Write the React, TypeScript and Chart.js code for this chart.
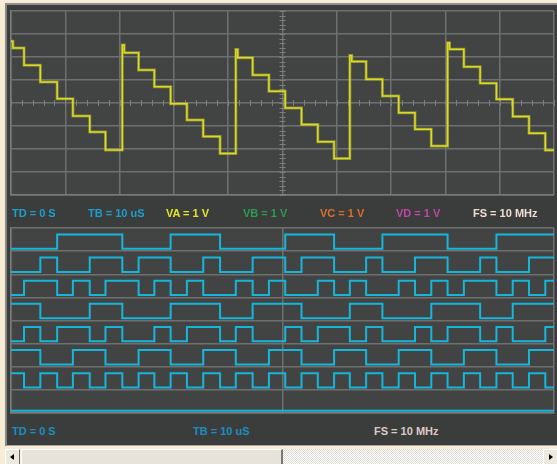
import React, { useEffect, useRef } from "react";
import { Chart, registerables } from "chart.js";

Chart.register(...registerables);

// ---- time base (µs): clock edges ----
const timeStart = 0;
const timeEnd = 100;
const edgeTimes = [
  2.4, 5.4, 8.5, 11.4, 14.5, 17.4, 20.5, 23.5, 26.4, 29.4, 32.4, 35.4, 38.5, 41.4, 44.5, 47.5, 50.5,
  53.5, 56.5, 59.5, 62.4, 65.4, 68.4, 71.4, 74.4, 77.4, 80.4, 83.4, 86.4, 89.4, 92.4, 95.4, 98.4,
];

// ---- channel A (volts), one level per clock interval ----
const channelA = [
  2.39, 1.64, 0.91, 0.19, -0.56, -1.26, -2.04,
  2.19, 1.43, 0.71, -0.03, -0.74, -1.46, -2.2,
  1.97, 1.22, 0.51, -0.22, -0.94, -1.68, -2.41,
  1.8, 1.03, 0.3, -0.42, -1.14, -1.87,
  2.34, 1.58, 0.86, 0.16, -0.59, -1.32, -2.05,
];
const overshootIntervals = [0, 7, 14, 21, 27];
const overshootValues = [2.69, 2.52, 2.33, 2.07, 2.62];

// ---- logic analyser channels, one bit per clock interval ----
const logicD0 = "0001111000111000011100011110001111";
const logicD1 = "0010011011001001101100100110010011";
const logicD2 = "0110101101010010100101001010110101";
const logicD3 = "1100011000111001110001100011100111";
const logicD4 = "0101101001011010010110100101101001";
const logicD5 = "1100110011001100110011001100110011";
const logicD6 = "1010101010101010101010101010101010";
const logicD7 = "0000000000000000000000000000000000";
const logicRows = [logicD0, logicD1, logicD2, logicD3, logicD4, logicD5, logicD6, logicD7];

// ---- texts ----
const scopeLabels = ["TD = 0 S", "TB = 10 uS", "VA = 1 V", "VB = 1 V", "VC = 1 V", "VD = 1 V", "FS = 10 MHz"];
const logicLabels = ["TD = 0 S", "TB = 10 uS", "FS = 10 MHz"];

const scopeMin = -4;
const scopeMax = 4;

const intervalStarts = [timeStart, ...edgeTimes];

function scopePoints() {
  const pts: { x: number; y: number }[] = [];
  intervalStarts.forEach((s, j) => {
    const k = overshootIntervals.indexOf(j);
    if (k >= 0) {
      pts.push({ x: s, y: overshootValues[k] });
      pts.push({ x: s + 0.35, y: channelA[j] });
    } else {
      pts.push({ x: s, y: channelA[j] });
    }
  });
  pts.push({ x: timeEnd, y: channelA[channelA.length - 1] });
  return pts;
}

function logicPoints(bits: string, row: number) {
  const base = logicRows.length - 1 - row;
  const lv = (b: string) => base + (b === "1" ? 0.72 : 0.1);
  const pts = intervalStarts.map((s, j) => ({ x: s, y: lv(bits[j]) }));
  pts.push({ x: timeEnd, y: lv(bits[bits.length - 1]) });
  return pts;
}

const GRID = "#6e7070";
const BORDER = "#7a7c7c";

const areaBg = {
  id: "areaBg",
  beforeDraw(chart: any) {
    const { ctx, chartArea } = chart;
    ctx.save();
    ctx.fillStyle = "#424444";
    ctx.fillRect(chartArea.left, chartArea.top, chartArea.right - chartArea.left, chartArea.bottom - chartArea.top);
    ctx.restore();
  },
};

const centerTicks = {
  id: "centerTicks",
  beforeDatasetsDraw(chart: any) {
    const { ctx, scales } = chart;
    const xs = scales.x;
    const ys = scales.y;
    const cx = xs.getPixelForValue(50);
    const cy = ys.getPixelForValue(0);
    ctx.save();
    ctx.strokeStyle = "#7c7e7e";
    ctx.lineWidth = 1;
    ctx.beginPath();
    for (let t = timeStart; t <= timeEnd; t += 2) {
      const px = Math.round(xs.getPixelForValue(t)) + 0.5;
      ctx.moveTo(px, cy - 3);
      ctx.lineTo(px, cy + 3);
    }
    for (let v = scopeMin; v <= scopeMax + 1e-9; v += 0.2) {
      const py = Math.round(ys.getPixelForValue(v)) + 0.5;
      ctx.moveTo(cx - 3, py);
      ctx.lineTo(cx + 3, py);
    }
    ctx.stroke();
    ctx.restore();
  },
};

function axisX(step: number) {
  return {
    type: "linear" as const,
    min: timeStart,
    max: timeEnd,
    ticks: { display: false, stepSize: step },
    grid: { color: GRID, lineWidth: 1.5, drawTicks: false },
    border: { display: true, color: BORDER, width: 1.5 },
  };
}

function ScopeChart() {
  const ref = useRef<HTMLCanvasElement>(null);
  useEffect(() => {
    const pts = scopePoints();
    const chart = new Chart(ref.current!, {
      type: "line",
      data: {
        datasets: [
          { data: pts, borderColor: "rgba(190,190,40,0.55)", borderWidth: 3, stepped: true, pointRadius: 0 },
          { data: pts, borderColor: "#ffff22", borderWidth: 1.5, stepped: true, pointRadius: 0 },
        ],
      },
      options: {
        animation: false,
        responsive: false,
        devicePixelRatio: 1,
        layout: { padding: { left: 11, top: 11, right: 3, bottom: 5 } },
        plugins: { legend: { display: false }, tooltip: { enabled: false } },
        scales: {
          x: axisX(10),
          y: {
            type: "linear",
            min: scopeMin,
            max: scopeMax,
            ticks: { display: false, stepSize: 1 },
            grid: { color: GRID, lineWidth: 1.5, drawTicks: false },
            border: { display: true, color: BORDER, width: 1.5 },
          },
        },
      },
      plugins: [areaBg, centerTicks],
    });
    return () => chart.destroy();
  }, []);
  return (
    <canvas ref={ref} width={557} height={200} style={{ position: "absolute", left: 0, top: 0, width: 557, height: 200 }} />
  );
}

function LogicChart() {
  const ref = useRef<HTMLCanvasElement>(null);
  useEffect(() => {
    const chart = new Chart(ref.current!, {
      type: "line",
      data: {
        datasets: logicRows.map((bits, r) => ({
          data: logicPoints(bits, r),
          borderColor: "#16b6da",
          borderWidth: 2,
          stepped: true,
          pointRadius: 0,
        })),
      },
      options: {
        animation: false,
        responsive: false,
        devicePixelRatio: 1,
        layout: { padding: { left: 11, top: 13, right: 3, bottom: 7 } },
        plugins: { legend: { display: false }, tooltip: { enabled: false } },
        scales: {
          x: axisX(50),
          y: {
            type: "linear",
            min: 0,
            max: logicRows.length,
            ticks: { display: false, stepSize: 1 },
            grid: { color: GRID, lineWidth: 1.5, drawTicks: false },
            border: { display: true, color: BORDER, width: 1.5 },
          },
        },
      },
      plugins: [areaBg],
    });
    return () => chart.destroy();
  }, []);
  return (
    <canvas ref={ref} width={557} height={205} style={{ position: "absolute", left: 0, top: 215, width: 557, height: 205 }} />
  );
}

const labelFont: React.CSSProperties = {
  position: "absolute",
  fontFamily: "'Liberation Sans', Arial, sans-serif",
  fontWeight: 700,
  fontSize: 11,
  lineHeight: "12px",
  whiteSpace: "nowrap",
};

const scopeLabelX = [12, 88, 166, 243, 320, 396, 473];
const scopeLabelColor = ["#1c9fcf", "#1c9fcf", "#e4e42c", "#2a9c55", "#de6e28", "#bf48a6", "#f0dcd0"];
const logicLabelX = [12, 193, 374];
const logicLabelColor = ["#1a8fbf", "#1a8fbf", "#ddccc4"];

export default function App() {
  return (
    <div
      style={{
        position: "fixed",
        left: 0,
        top: 0,
        width: 557,
        height: 464,
        overflow: "hidden",
        background: "#f8ecd4",
      }}
    >
      <div
        style={{
          position: "absolute",
          left: 5,
          top: 3,
          width: 552,
          height: 443,
          boxSizing: "border-box",
          background: "#3b3d3d",
          borderLeft: "2px solid #868888",
          borderTop: "2px solid #8e9090",
          borderBottom: "1px solid #a8a8a8",
        }}
      />
      <ScopeChart />
      <LogicChart />
      {scopeLabels.map((t, i) => (
        <span key={"s" + i} style={{ ...labelFont, left: scopeLabelX[i], top: 207, color: scopeLabelColor[i] }}>
          {t}
        </span>
      ))}
      {logicLabels.map((t, i) => (
        <span key={"l" + i} style={{ ...labelFont, left: logicLabelX[i], top: 425, color: logicLabelColor[i] }}>
          {t}
        </span>
      ))}
      {/* scrollbar */}
      <div
        style={{
          position: "absolute",
          left: 5,
          top: 449,
          width: 15,
          height: 17,
          boxSizing: "border-box",
          background: "#ece9e0",
          borderTop: "1px solid #ffffff",
          borderLeft: "1px solid #ffffff",
          borderRight: "1px solid #6a6a6a",
        }}
      >
        <div
          style={{
            position: "absolute",
            left: 4,
            top: 4,
            width: 0,
            height: 0,
            borderTop: "3px solid transparent",
            borderBottom: "3px solid transparent",
            borderRight: "4px solid #000",
          }}
        />
      </div>
      <div
        style={{
          position: "absolute",
          left: 21,
          top: 449,
          width: 262,
          height: 17,
          boxSizing: "border-box",
          background: "#e6e3da",
          borderTop: "1px solid #ffffff",
          borderLeft: "1px solid #ffffff",
          borderRight: "2px solid #777777",
        }}
      />
      <div
        style={{
          position: "absolute",
          left: 283,
          top: 449,
          width: 260,
          height: 17,
          background: "repeating-conic-gradient(#ffffff 0% 25%, #dedcd4 0% 50%) 0 0 / 2px 2px",
        }}
      />
      <div
        style={{
          position: "absolute",
          left: 543,
          top: 449,
          width: 14,
          height: 17,
          boxSizing: "border-box",
          background: "#ece9e0",
          borderTop: "1px solid #ffffff",
          borderLeft: "1px solid #ffffff",
        }}
      >
        <div
          style={{
            position: "absolute",
            left: 5,
            top: 4,
            width: 0,
            height: 0,
            borderTop: "3px solid transparent",
            borderBottom: "3px solid transparent",
            borderLeft: "4px solid #000",
          }}
        />
      </div>
    </div>
  );
}
